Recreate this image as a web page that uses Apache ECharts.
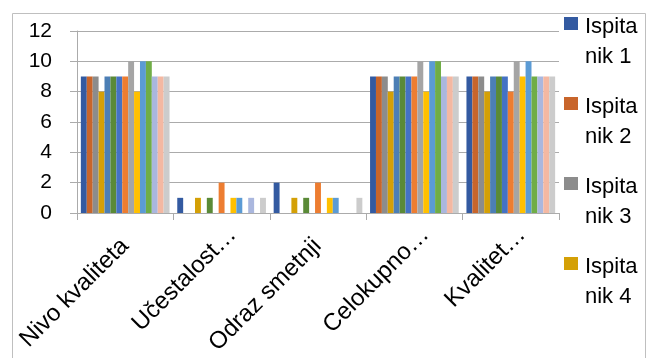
<!DOCTYPE html>
<html>
<head>
<meta charset="utf-8">
<script src="https://cdn.jsdelivr.net/npm/echarts@6/dist/echarts.min.js"></script>
<style>
  html, body { margin: 0; padding: 0; background: #fff; }
  #chart { width: 652px; height: 358px; }
</style>
</head>
<body>
<div id="chart"></div>
<script>
// Categories shown on the x axis
const categories = ['Nivo kvaliteta', 'Učestalost…', 'Odraz smetnji', 'Celokupno…', 'Kvalitet…'];

// Scores given by each respondent (Ispitanik 1..15), one value per category
const ispitanik1  = [9, 1, 2, 9, 9];
const ispitanik2  = [9, 0, 0, 9, 9];
const ispitanik3  = [9, 0, 0, 9, 9];
const ispitanik4  = [8, 1, 1, 8, 8];
const ispitanik5  = [9, 0, 0, 9, 9];
const ispitanik6  = [9, 1, 1, 9, 9];
const ispitanik7  = [9, 0, 0, 9, 9];
const ispitanik8  = [9, 2, 2, 9, 8];
const ispitanik9  = [10, 0, 0, 10, 10];
const ispitanik10 = [8, 1, 1, 8, 9];
const ispitanik11 = [10, 1, 1, 10, 10];
const ispitanik12 = [10, 0, 0, 10, 9];
const ispitanik13 = [9, 1, 0, 9, 9];
const ispitanik14 = [9, 0, 0, 9, 9];
const ispitanik15 = [9, 1, 1, 9, 9];

const seriesValues = [
  ispitanik1, ispitanik2, ispitanik3, ispitanik4, ispitanik5,
  ispitanik6, ispitanik7, ispitanik8, ispitanik9, ispitanik10,
  ispitanik11, ispitanik12, ispitanik13, ispitanik14, ispitanik15
];
const seriesNames = seriesValues.map((_, i) => 'Ispitanik ' + (i + 1));

// Y axis ticks
const yTicks = [0, 2, 4, 6, 8, 10, 12];

const palette = [
  '#335AA1', '#C8652B', '#8C8C8C', '#D4A006', '#4C7FB5',
  '#5A8A37', '#4472C4', '#ED7D31', '#A5A5A5', '#FFC000',
  '#5B9BD5', '#70AD47', '#AAB7DE', '#F4B8A2', '#CCCCCC'
];

const FONT = '"Liberation Sans", Arial, sans-serif';
const GRID_COLOR = '#ABABAB';
const PLOT = { left: 77, right: 93, top: 31, bottom: 145 };
const LABEL_SHIFT = 11;   // rotated category labels sit a little right of the band centre

// One legend block per visible entry; the text wraps as "Ispita / nik 1",
// with a leading spacer row so the marker lines up with the first text row.
const legendTops = [17, 97, 177, 257];
const legends = legendTops.map((t, i) => ({
  data: [seriesNames[i]],
  left: 564,
  top: t - 34.5,
  padding: 0,
  itemWidth: 14,
  itemHeight: 13,
  icon: 'rect',
  selectedMode: false,
  formatter: name => '{s| }\n{t|' + name.slice(0, 6) + '}\n{t|' + name.slice(6) + '}',
  textStyle: {
    fontFamily: FONT,
    fontSize: 22,
    color: '#000',
    padding: [0, 0, 0, 2],
    rich: {
      s: { fontFamily: FONT, fontSize: 22, lineHeight: 36 },
      t: { fontFamily: FONT, fontSize: 22, lineHeight: 30, color: '#000' }
    }
  }
}));

const chart = echarts.init(document.getElementById('chart'), null, { renderer: 'canvas' });

chart.setOption({
  animation: false,
  backgroundColor: '#fff',
  color: palette,
  grid: [
    Object.assign({ containLabel: false }, PLOT),
    // label-only grid, offset horizontally for the rotated category names
    { left: PLOT.left + LABEL_SHIFT, right: PLOT.right - LABEL_SHIFT, top: PLOT.top, bottom: PLOT.bottom, containLabel: false }
  ],
  legend: legends,
  xAxis: [{
    type: 'category',
    gridIndex: 0,
    data: categories,
    axisLine: { show: true, lineStyle: { color: GRID_COLOR, width: 1 } },
    axisTick: { show: true, length: 7, lineStyle: { color: GRID_COLOR } },
    axisLabel: { show: false }
  }, {
    type: 'category',
    gridIndex: 1,
    data: categories,
    axisLine: { show: false },
    axisTick: { show: false },
    axisLabel: {
      rotate: 45,
      margin: 18,
      interval: 0,
      fontFamily: FONT,
      fontSize: 24,
      color: '#000',
      formatter: v => v.endsWith('…') ? '{e|' + v + '}' : '{f|' + v + '}',
      rich: {
        e: { fontFamily: FONT, fontSize: 24, color: '#000' },
        f: { fontFamily: FONT, fontSize: 24, color: '#000', padding: [0, 16, 0, 0] }
      }
    }
  }],
  yAxis: [{
    type: 'value',
    gridIndex: 0,
    min: yTicks[0],
    max: yTicks[yTicks.length - 1],
    interval: yTicks[1] - yTicks[0],
    axisLine: { show: true, lineStyle: { color: GRID_COLOR, width: 1 } },
    axisTick: { show: true, length: 7, lineStyle: { color: GRID_COLOR } },
    splitLine: { show: true, lineStyle: { color: GRID_COLOR, width: 1 } },
    axisLabel: {
      margin: 25,
      fontFamily: FONT,
      fontSize: 21,
      color: '#000'
    }
  }, {
    type: 'value',
    gridIndex: 1,
    show: false,
    min: 0,
    max: 12
  }],
  series: seriesValues.map((vals, i) => ({
    name: seriesNames[i],
    type: 'bar',
    xAxisIndex: 0,
    yAxisIndex: 0,
    data: vals,
    barGap: '0%',
    barCategoryGap: '8%'
  })),
  graphic: [{
    type: 'rect',
    shape: { x: 12.5, y: 13.5, width: 633, height: 360 },
    style: { fill: null, stroke: '#BFBFBF', lineWidth: 1 },
    silent: true
  }]
});
</script>
</body>
</html>
